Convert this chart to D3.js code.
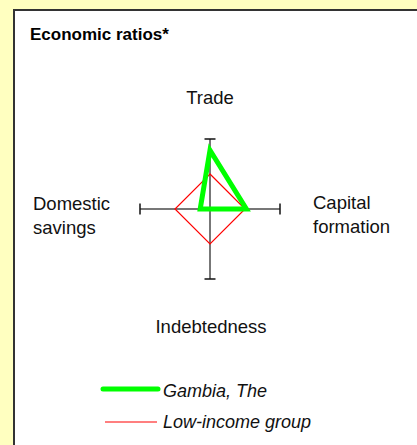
<!DOCTYPE html>
<html>
<head>
<meta charset="utf-8">
<script src="https://cdn.jsdelivr.net/npm/d3@7"></script>
<style>
  body { margin: 0; background: #ffffc0; }
  svg { display: block; font-family: "Liberation Sans", Arial, sans-serif; }
</style>
</head>
<body>
<svg id="chart"></svg>
<script>
const axes = ["Trade", "Capital formation", "Indebtedness", "Domestic savings"];
const gambia = [0.84, 0.52, 0, 0.14];
const lowIncome = [0.5, 0.5, 0.5, 0.5];
const seriesNames = ["Gambia, The", "Low-income group"];

const width = 417;
const height = 445;
const cx = 210;
const cy = 209;
const radius = 70;

const svg = d3.select("#chart").attr("width", width).attr("height", height);

// panel
svg.append("rect")
  .attr("x", 14)
  .attr("y", 10)
  .attr("width", width)
  .attr("height", height)
  .attr("fill", "#fff")
  .attr("stroke", "#333")
  .attr("stroke-width", 2);

svg.append("text")
  .attr("x", 30)
  .attr("y", 40)
  .style("font-size", "17px")
  .style("font-weight", "bold")
  .attr("fill", "#000")
  .text("Economic ratios*");

const r = d3.scaleLinear().domain([0, 1]).range([0, radius]);
// angle per axis, clockwise from top
const angle = d3.scaleLinear().domain([0, axes.length]).range([0, 2 * Math.PI]);

const pt = (v, i) => [cx + r(v) * Math.sin(angle(i)), cy - r(v) * Math.cos(angle(i))];

const g = svg.append("g");

axes.forEach((a, i) => {
  const [x2, y2] = pt(1, i);
  g.append("line")
    .attr("x1", cx).attr("y1", cy)
    .attr("x2", x2).attr("y2", y2)
    .attr("stroke", "#777")
    .attr("stroke-width", 2);
  // end cap
  const dx = Math.cos(angle(i)) * 5.5;
  const dy = Math.sin(angle(i)) * 5.5;
  g.append("line")
    .attr("x1", x2 - dx).attr("y1", y2 - dy)
    .attr("x2", x2 + dx).attr("y2", y2 + dy)
    .attr("stroke", "#111")
    .attr("stroke-width", 1.5);
});

const line = d3.line().curve(d3.curveLinearClosed);

g.append("path")
  .attr("d", line(lowIncome.map(pt)))
  .attr("fill", "none")
  .attr("stroke", "red")
  .attr("stroke-width", 1.2);

g.append("path")
  .attr("d", line(gambia.map(pt)))
  .attr("fill", "none")
  .attr("stroke", "#00ff00")
  .attr("stroke-width", 5)
  .attr("stroke-linejoin", "miter");

// axis labels
const labelPos = [
  { x: 210, y: 104, anchor: "middle" },
  { x: 313, y: 209, anchor: "start" },
  { x: 211, y: 333, anchor: "middle" },
  { x: 33, y: 210, anchor: "start" }
];
axes.forEach((a, i) => {
  const p = labelPos[i];
  const t = svg.append("text")
    .attr("x", p.x)
    .attr("y", p.y)
    .attr("text-anchor", p.anchor)
    .style("font-size", "18.5px")
    .attr("fill", "#111");
  a.split(" ").forEach((w, j) => {
    t.append("tspan")
      .attr("x", p.x)
      .attr("dy", j === 0 ? 0 : 23.7)
      .text(w);
  });
});

// legend
const legend = svg.append("g");
const legendStyle = [
  { color: "#00ff00", w: 5, x1: 103, x2: 158, y: 389 },
  { color: "#ff0000", w: 1.2, x1: 105, x2: 157, y: 422 }
];
seriesNames.forEach((name, i) => {
  const s = legendStyle[i];
  legend.append("line")
    .attr("x1", s.x1).attr("x2", s.x2)
    .attr("y1", s.y).attr("y2", s.y)
    .attr("stroke", s.color)
    .attr("stroke-width", s.w)
    .attr("stroke-linecap", i === 0 ? "round" : "butt");
  legend.append("text")
    .attr("x", 163)
    .attr("y", i === 0 ? 396.5 : 427.5)
    .style("font-size", "18px")
    .style("font-style", "italic")
    .attr("fill", "#111")
    .text(name);
});
</script>
</body>
</html>
